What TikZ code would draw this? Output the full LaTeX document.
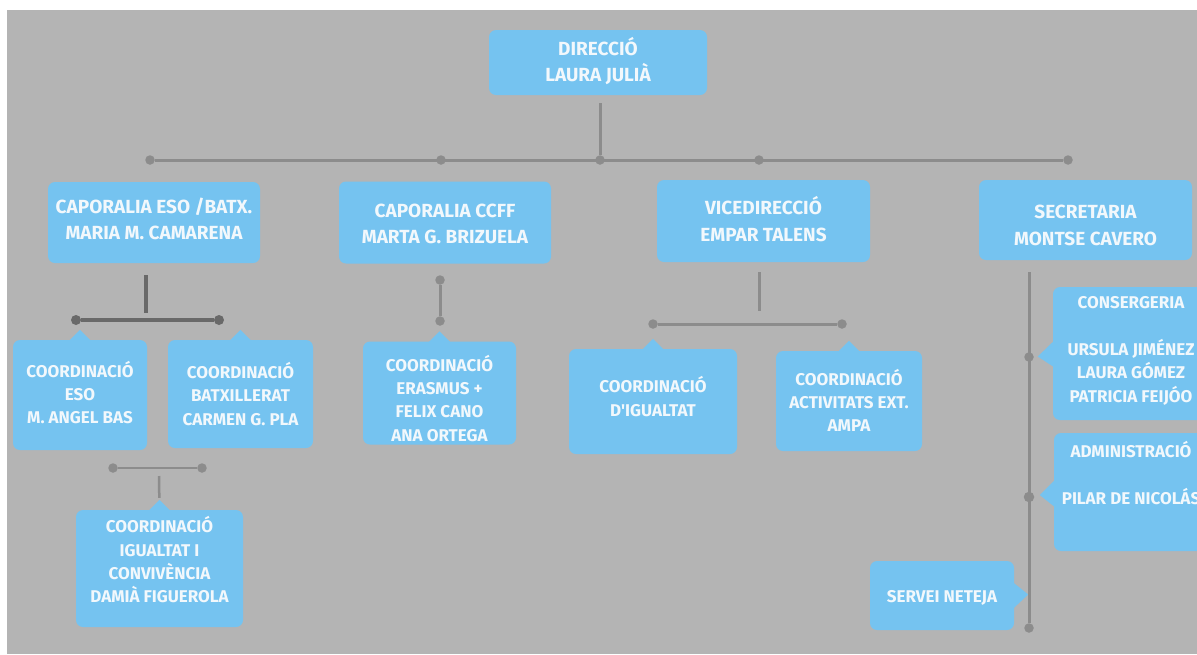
\documentclass[tikz,border=0pt]{standalone}
\usepackage{fontspec}
\setsansfont{Fira Sans}
\usepackage{tikz}
\usetikzlibrary{positioning}

\definecolor{boxblue}{HTML}{75C3F0}
\definecolor{bggray}{HTML}{B4B4B4}
\definecolor{linegray}{HTML}{8C8C8C}
\definecolor{linedark}{HTML}{696969}
\definecolor{textwhite}{HTML}{F2F8FC}

% height of the first line, depth of the last line
\newcommand{\uprule}[1]{\rule{0pt}{#1pt}}
\newcommand{\downrule}[1]{\rule[-#1pt]{0pt}{0pt}}

\tikzset{
	unit/.style={rectangle, rounded corners=7pt, fill=boxblue, text=textwhite, align=center, inner sep=0pt,
		font=\sffamily\bfseries\fontsize{17}{23.3}\selectfont},
	headunit/.style={unit, font=\sffamily\bfseries\fontsize{19}{26.5}\selectfont},
	boxsize/.style 2 args={minimum width=#1pt, minimum height=#2pt},
	dot/.style={circle, fill=linegray, inner sep=0pt, minimum size=9.5pt},
	darkdot/.style={dot, fill=linedark, minimum size=10pt},
	conn/.style={draw=linegray, line width=3pt},
	darkconn/.style={draw=linedark, line width=3.5pt},
	thinconn/.style={draw=linegray, line width=2.5pt},
}

\begin{document}
\begin{tikzpicture}[x=1pt, y=-1pt, node distance=1cm, on grid]
	\useasboundingbox (0,0) rectangle (1197,654);
	\fill[white] (0,0) rectangle (1197,654);
	\fill[bggray] (7,10) rectangle (1197,654);

	% boxes
	\node[headunit, boxsize={218}{65}] 	(dir) 	at (598,62.5)		{\uprule{20}DIRECCIÓ\\LAURA JULIÀ\downrule{7.7}};
	\node[headunit, boxsize={212}{81}] 	(capeso) 	[below=160pt of dir, xshift=-444pt]	{\uprule{20}CAPORALIA ESO /BATX.\\MARIA M. CAMARENA\downrule{12}};
	\node[headunit, boxsize={212}{82}] 	(capccff) 	[below=160pt of dir, xshift=-153pt]	{\uprule{20}CAPORALIA CCFF\\MARTA G. BRIZUELA\downrule{3.6}};
	\node[headunit, boxsize={213}{82}] 	(vice) 	[below=158.5pt of dir, xshift=165.5pt]	{\uprule{20}VICEDIRECCIÓ\\EMPAR TALENS\downrule{6}};
	\node[headunit, boxsize={213}{80}] 	(secr) 	[below=157.5pt of dir, xshift=487.5pt]	{\uprule{25}SECRETARIA\\MONTSE CAVERO\downrule{1}};

	\node[unit, boxsize={134}{110}] 	(eso) 	[below=172.5pt of capeso, xshift=-74pt]	{\uprule{17}COORDINACIÓ\\ESO\\M. ANGEL BAS\downrule{5.8}};
	\node[unit, boxsize={145}{108}] 	(batx) 	[below=171.5pt of capeso, xshift=86.5pt]	{\uprule{17}COORDINACIÓ\\BATXILLERAT\\CARMEN G. PLA\downrule{1.6}};
	\node[unit, boxsize={167}{117}] 	(igconv) 	[below=173.5pt of eso, xshift=79.5pt]	{\uprule{17}COORDINACIÓ\\IGUALTAT I\\CONVIVÈNCIA\\DAMIÀ FIGUEROLA\downrule{18.2}};
	\node[unit, boxsize={153}{103}] 	(erasmus) 	[below=170.5pt of capccff, xshift=-5.5pt]	{\uprule{27}COORDINACIÓ\\ERASMUS +\\FELIX CANO\\ANA ORTEGA\downrule{0.5}};
	\node[unit, boxsize={168}{105}] 	(igual) 	[below=180.5pt of vice, xshift=-110.5pt]	{\uprule{17}COORDINACIÓ\\D\textquotesingle IGUALTAT\downrule{11.2}};
	\node[unit, boxsize={146}{100}] 	(activ) 	[below=180pt of vice, xshift=85.5pt]	{\uprule{17}COORDINACIÓ\\ACTIVITATS EXT.\\AMPA\downrule{2.2}};
	\node[unit, boxsize={156}{133}] 	(conserg) 	[below=133.5pt of secr, xshift=45.5pt]	{\uprule{17}CONSERGERIA\\[23.3pt]URSULA JIMÉNEZ\\LAURA GÓMEZ\\PATRICIA FEIJÓO\downrule{13.2}};
	\node[unit, boxsize={154}{118}] 	(admin) 	[below=138.5pt of conserg]	{\uprule{17}ADMINISTRACIÓ\\[23.3pt]PILAR DE NICOLÁS\downrule{39.2}};
	\node[unit, boxsize={144}{69}] 	(servei) 	[below=375.5pt of secr, xshift=-143.5pt]	{\uprule{17}SERVEI NETEJA\downrule{2.2}};

	% pointers of the boxes
	\foreach \b in {eso,batx,igconv,erasmus,igual,activ}
		\fill[boxblue] ([shift={(-11pt,-1pt)}]\b.north) -- ([yshift=10pt]\b.north) -- ([shift={(11pt,-1pt)}]\b.north) -- cycle;
	\fill[boxblue] ([shift={(1pt,12.5pt)}]conserg.west) -- ([shift={(-15pt,-3pt)}]conserg.west) -- ([shift={(1pt,-13.5pt)}]conserg.west) -- cycle;
	\fill[boxblue] ([shift={(1pt,12pt)}]admin.west) -- ([shift={(-14pt,-3pt)}]admin.west) -- ([shift={(1pt,-15pt)}]admin.west) -- cycle;
	\fill[boxblue] ([shift={(-1pt,13pt)}]servei.east) -- ([shift={(14pt,1pt)}]servei.east) -- ([shift={(-1pt,-13pt)}]servei.east) -- cycle;

	% dots
	\node[dot] (t1) at (150,160) {};
	\node[dot] (t2) at (441,160) {};
	\node[dot] (t3) at (600,160) {};
	\node[dot] (t4) at (759,160) {};
	\node[dot] (t5) at (1068,160) {};
	\node[darkdot] (e1) at (76,320) {};
	\node[darkdot] (e2) at (219,320) {};
	\node[dot] (g1) at (113,468) {};
	\node[dot] (g2) at (202,468) {};
	\node[dot] (c1) at (440,280) {};
	\node[dot] (c2) at (440,321) {};
	\node[dot] (v1) at (653,324) {};
	\node[dot] (v2) at (842,324) {};
	\node[dot] (s1) at (1029,357) {};
	\node[dot, minimum size=10.5pt] (s2) at (1029,497) {};
	\node[dot] (s3) at (1029,628) {};
	\coordinate (ej) at (146,313);
	\coordinate (gj) at (159,476);
	\coordinate (vj) at (759,311);

	% connectors
	\path
	(t1) edge[conn] (t5)
	(dir.south -| t3) edge[conn, shorten <=8pt] (t3)
	(e1) edge[darkconn] (e2)
	(capeso.south -| ej) edge[darkconn, shorten <=12pt] (ej)
	(g1) edge[thinconn] (g2)
	(gj) edge[thinconn, shorten >=12pt] (igconv.north)
	(c1) edge[conn] (c2)
	(v1) edge[conn] (v2)
	(vice.south -| vj) edge[conn, shorten <=10pt] (vj)
	(secr.south -| s3) edge[conn, shorten <=12pt] (s3)
	;

\end{tikzpicture}
\end{document}
